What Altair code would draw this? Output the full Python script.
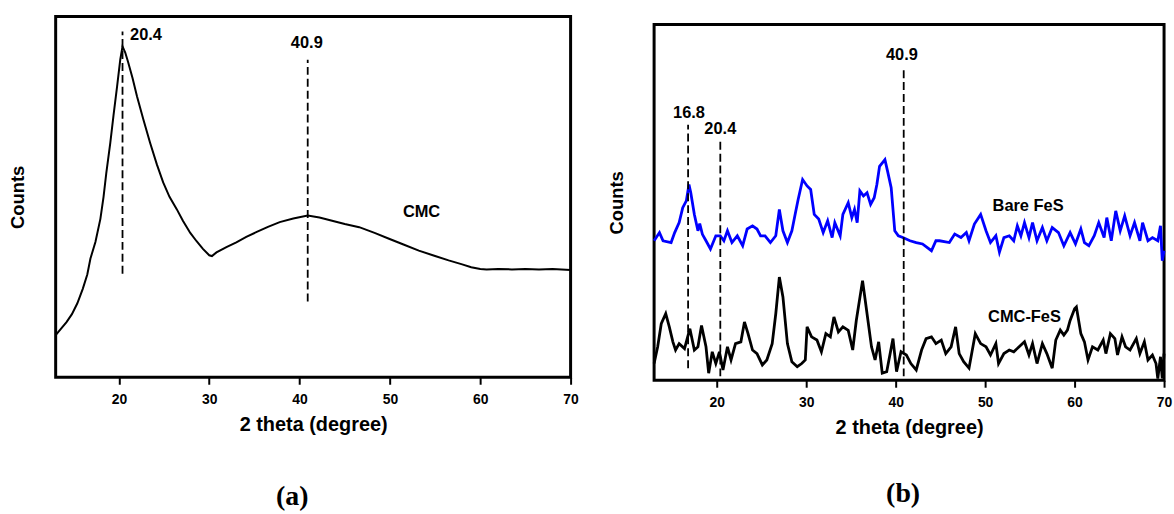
import altair as alt
import pandas as pd

# ---------------- data ----------------
# Panel (a): CMC, relative counts (0-100 = bottom-top of frame)
cmc_x = [13.0, 13.6, 14.2, 14.8, 15.4, 16.0, 16.5, 16.85, 17.4, 17.95, 18.3, 18.6, 19.05, 19.4, 19.8,
         20.15, 20.4, 20.7, 21.0, 21.5, 22.0, 22.7, 23.45, 24.2, 24.9, 25.6, 26.4, 27.1, 27.9, 28.6,
         29.3, 30.0, 30.3, 30.8, 31.9, 33.0, 34.1, 35.2, 36.5, 37.8, 39.3, 40.9, 42.2, 43.6, 45.0,
         46.6, 48.3, 49.9, 51.5, 53.2, 55.0, 56.5, 58.0, 59.0, 60.0, 60.7, 62.0, 63.5, 65.0, 66.5,
         68.0, 70.0]
cmc_y = [11.7, 13.5, 15.3, 17.5, 20.5, 24.5, 28.5, 32.9, 37.5, 43.9, 50.0, 56.5, 65.0, 72.5, 80.6,
         88.0, 91.7, 90.0, 87.5, 83.0, 77.9, 71.5, 65.0, 59.0, 54.0, 50.0, 46.6, 43.3, 40.0, 37.7,
         35.6, 33.8, 33.6, 34.6, 36.1, 37.4, 38.9, 40.2, 41.7, 43.0, 44.0, 44.8, 44.3, 43.4, 42.5,
         41.6, 40.0, 38.4, 36.8, 35.1, 33.6, 32.4, 31.3, 30.5, 30.0, 29.9, 30.0, 29.9, 30.0, 29.9,
         30.0, 29.7]

# Panel (b): Bare FeS
bare_x = [13.0, 13.6, 14.0, 14.9, 15.3, 15.8, 16.2, 16.6, 16.9, 17.1, 17.5, 17.9, 18.1, 18.4, 18.8,
          19.3, 19.9, 20.4, 20.8, 21.2, 21.7, 22.3, 22.9, 23.4, 24.0, 24.5, 24.9, 25.4, 26.0, 26.6,
          27.0, 27.4, 27.9, 28.4, 28.8, 29.1, 29.6, 30.1, 30.5, 30.9, 31.4, 31.9, 32.4, 32.9, 33.2,
          33.8, 34.1, 34.7, 35.1, 35.4, 35.7, 36.0, 36.4, 36.8, 37.2, 37.6, 37.9, 38.2, 38.8, 39.1,
          39.5, 39.9, 40.3, 40.8, 41.6, 42.3, 43.0, 44.0, 44.5, 44.9, 46.0, 46.6, 47.3, 47.9, 48.2,
          48.8, 49.5, 50.1, 50.6, 51.2, 51.6, 52.1, 52.7, 53.2, 53.6, 54.0, 54.4, 54.9, 55.3, 55.8,
          56.4, 56.9, 57.5, 58.2, 58.8, 59.5, 60.1, 60.7, 61.1, 61.6, 62.2, 62.7, 63.3, 63.6, 64.1,
          64.6, 65.1, 65.6, 66.2, 66.7, 67.3, 67.6, 68.2, 68.7, 69.3, 69.6, 69.8, 70.0]
bare_y = [39.2, 41.5, 39.2, 38.7, 41.5, 44.3, 48.5, 50.4, 55.0, 52.7, 46.6, 42.0, 44.0, 41.0, 39.2,
          36.9, 40.6, 40.6, 39.2, 42.0, 38.7, 40.6, 37.8, 42.5, 43.4, 42.5, 40.6, 40.6, 38.7, 40.6,
          48.0, 42.0, 38.7, 42.0, 47.1, 50.8, 56.4, 54.6, 53.6, 46.6, 45.3, 41.5, 44.8, 40.1, 44.3,
          40.6, 46.6, 49.9, 45.7, 48.0, 44.3, 53.2, 51.8, 52.7, 49.4, 51.3, 55.0, 60.1, 62.0, 58.7,
          54.1, 42.0, 40.6, 40.1, 39.2, 38.7, 38.3, 36.4, 39.2, 39.2, 38.7, 41.1, 40.1, 41.5, 39.2,
          43.9, 46.6, 42.0, 38.7, 40.6, 36.0, 40.1, 40.6, 39.2, 43.4, 40.6, 44.3, 40.1, 44.3, 39.2,
          42.9, 39.2, 42.9, 41.5, 37.8, 41.5, 38.3, 42.5, 38.7, 37.8, 40.6, 44.3, 40.1, 45.7, 39.2,
          47.6, 42.0, 46.2, 40.6, 44.3, 39.2, 44.3, 39.2, 40.1, 39.2, 43.4, 33.6, 36.4]

# Panel (b): CMC-FeS
cf_x = [13.0, 13.4, 13.8, 14.3, 14.7, 15.1, 15.4, 15.8, 16.4, 17.0, 17.5, 17.9, 18.3, 18.8, 19.1,
        19.5, 19.9, 20.3, 20.7, 21.2, 21.6, 22.1, 22.7, 23.1, 23.5, 24.0, 24.5, 25.1, 25.6, 26.2,
        26.6, 27.0, 27.4, 27.9, 28.4, 29.0, 29.5, 29.9, 30.1, 30.6, 31.2, 31.7, 32.2, 32.7, 33.1,
        33.6, 34.1, 34.7, 35.2, 35.6, 36.3, 36.7, 37.3, 37.7, 38.1, 38.5, 39.0, 39.7, 40.1, 40.6,
        41.2, 41.7, 42.3, 42.9, 43.4, 44.0, 44.5, 45.1, 45.6, 46.2, 46.7, 47.1, 47.6, 48.2, 48.9,
        49.5, 50.1, 50.6, 51.2, 51.5, 52.1, 52.7, 53.2, 53.8, 54.4, 54.9, 55.3, 55.8, 56.4, 56.9,
        57.5, 57.9, 58.4, 58.8, 59.2, 59.5, 60.0, 60.2, 60.7, 61.1, 61.5, 62.0, 62.6, 63.2, 63.5,
        64.0, 64.5, 64.8, 65.3, 65.7, 66.2, 66.9, 67.3, 67.8, 68.2, 68.7, 69.1, 69.3, 69.6, 69.8,
        70.0]
cf_y = [4.7, 9.4, 15.9, 18.7, 15.0, 10.8, 8.5, 10.3, 8.9, 14.5, 8.5, 9.4, 15.4, 9.4, 2.0,
        8.0, 4.7, 8.0, 2.9, 9.4, 5.7, 10.3, 10.8, 16.4, 13.1, 8.5, 7.5, 4.3, 5.7, 10.3,
        18.7, 29.0, 23.4, 10.3, 5.2, 3.8, 4.7, 5.7, 15.0, 12.2, 11.3, 8.0, 13.1, 12.2, 17.8,
        13.6, 15.0, 14.0, 8.5, 16.8, 28.0, 20.6, 9.4, 5.7, 10.8, 2.0, 2.4, 11.7, 2.4, 8.0,
        7.1, 4.7, 2.9, 8.5, 11.7, 12.2, 10.3, 11.3, 7.5, 9.4, 15.0, 7.5, 5.2, 3.4, 13.1,
        10.3, 9.4, 7.1, 10.3, 4.7, 7.5, 8.5, 8.0, 9.4, 10.8, 7.1, 10.3, 4.7, 10.3, 7.5,
        3.4, 11.3, 14.1, 12.7, 14.1, 16.8, 20.1, 20.6, 13.1, 10.8, 5.7, 9.4, 8.5, 11.3, 7.5,
        13.1, 11.7, 7.1, 12.2, 9.4, 8.5, 11.7, 7.5, 10.8, 5.7, 7.1, 4.7, 0.5, 6.6, 0.5,
        7.5]

# Reference (dashed) lines and their labels
a_line_x = [20.4, 40.9]
a_line_y1 = [28.7, 21.0]
a_line_y2 = [95.8, 88.0]
a_text = ["20.4", "40.9", "CMC"]
a_text_x = [23.0, 40.8, 53.5]
a_text_y = [94.8, 92.6, 45.7]

b_line_x = [16.8, 20.4, 40.9]
b_line_y1 = [3.4, 1.1, 1.1]
b_line_y2 = [71.8, 68.0, 88.0]
b_text = ["16.8", "20.4", "40.9", "Bare FeS", "CMC-FeS"]
b_text_x = [16.9, 20.4, 40.7, 54.8, 54.4]
b_text_y = [75.1, 70.7, 91.5, 49.0, 17.8]

x_ticks = [20, 30, 40, 50, 60, 70]

# ---------------- styling ----------------
FONT = "Liberation Sans"
XS = alt.Scale(domain=[13, 70], nice=False, zero=False)
YS = alt.Scale(domain=[0, 100], nice=False, zero=False)

x_axis = alt.Axis(values=x_ticks, format="d", title="2 theta (degree)", labelFlush=False,
                  grid=False, domain=False, tickSize=7, tickWidth=2, tickColor="black",
                  labelFont=FONT, labelFontSize=14, labelFontWeight="bold", labelColor="black",
                  labelPadding=8, titleFont=FONT, titleFontSize=20, titleFontWeight="bold",
                  titleColor="black", titlePadding=9)
y_axis = alt.Axis(title="Counts", ticks=False, labels=False, domain=False, grid=False,
                  titleFont=FONT, titleFontSize=18.5, titleFontWeight="bold", titleColor="black",
                  titlePadding=28)


def rules(xs, y1, y2):
    df = pd.DataFrame({"x": xs, "y1": y1, "y2": y2})
    return alt.Chart(df).mark_rule(color="black", strokeWidth=1.8, strokeDash=[8, 4]).encode(
        x=alt.X("x:Q", scale=XS, axis=x_axis),
        y=alt.Y("y1:Q", scale=YS, axis=y_axis),
        y2="y2:Q",
    )


def labels(txt, xs, ys):
    df = pd.DataFrame({"t": txt, "x": xs, "y": ys})
    return alt.Chart(df).mark_text(font=FONT, fontSize=16.5, fontWeight="bold", color="black",
                                   align="center", baseline="middle").encode(
        x=alt.X("x:Q", scale=XS, axis=x_axis),
        y=alt.Y("y:Q", scale=YS, axis=y_axis),
        text="t:N",
    )


def panel_title(txt, dx, offset):
    return alt.TitleParams(txt, orient="bottom", font="Liberation Serif", fontSize=28,
                           fontWeight="bold", color="black", offset=offset, frame="group", dx=dx)


# ---------------- panel (a) ----------------
df_cmc = pd.DataFrame({"x": cmc_x, "y": cmc_y})
line_a = alt.Chart(df_cmc).mark_line(color="black", strokeWidth=2).encode(
    x=alt.X("x:Q", scale=XS, axis=x_axis),
    y=alt.Y("y:Q", scale=YS, axis=y_axis),
)
panel_a = alt.layer(line_a, rules(a_line_x, a_line_y1, a_line_y2),
                    labels(a_text, a_text_x, a_text_y)).properties(
    width=518, height=363, title=panel_title("(a)", -21, 48),
)

# ---------------- panel (b) ----------------
df_b = pd.concat([
    pd.DataFrame({"x": bare_x, "y": bare_y, "s": "Bare FeS"}),
    pd.DataFrame({"x": cf_x, "y": cf_y, "s": "CMC-FeS"}),
])
line_b = alt.Chart(df_b).mark_line(strokeWidth=2.8).encode(
    x=alt.X("x:Q", scale=XS, axis=x_axis),
    y=alt.Y("y:Q", scale=YS, axis=y_axis),
    color=alt.Color("s:N", scale=alt.Scale(domain=["Bare FeS", "CMC-FeS"],
                                           range=["#0000ff", "#000000"]), legend=None),
    detail="s:N",
)
panel_b = alt.layer(line_b, rules(b_line_x, b_line_y1, b_line_y2),
                    labels(b_text, b_text_x, b_text_y)).properties(
    width=513, height=358, title=panel_title("(b)", -6, 42),
)

# invisible spacer (zero-size rect) that pushes panel (b) a few pixels down
spacer = alt.Chart(pd.DataFrame({"v": [0.5]})).mark_rect(opacity=0).encode(
    x=alt.X("v:Q", axis=None, scale=alt.Scale(domain=[0, 1])),
    x2="v:Q",
    y=alt.Y("v:Q", axis=None, scale=alt.Scale(domain=[0, 1])),
    y2="v:Q",
).properties(width=1, height=6, view=alt.ViewConfig(stroke=None))

panel_b_col = alt.vconcat(spacer, panel_b, spacing=0)

chart = alt.hconcat(panel_a, panel_b_col, spacing=25).properties(
    padding={"left": 7, "top": 13, "right": 0, "bottom": 0},
    background="white",
).configure_view(stroke="black", strokeWidth=3)

chart.save("out.html", embed_options={"renderer": "svg", "actions": False})
